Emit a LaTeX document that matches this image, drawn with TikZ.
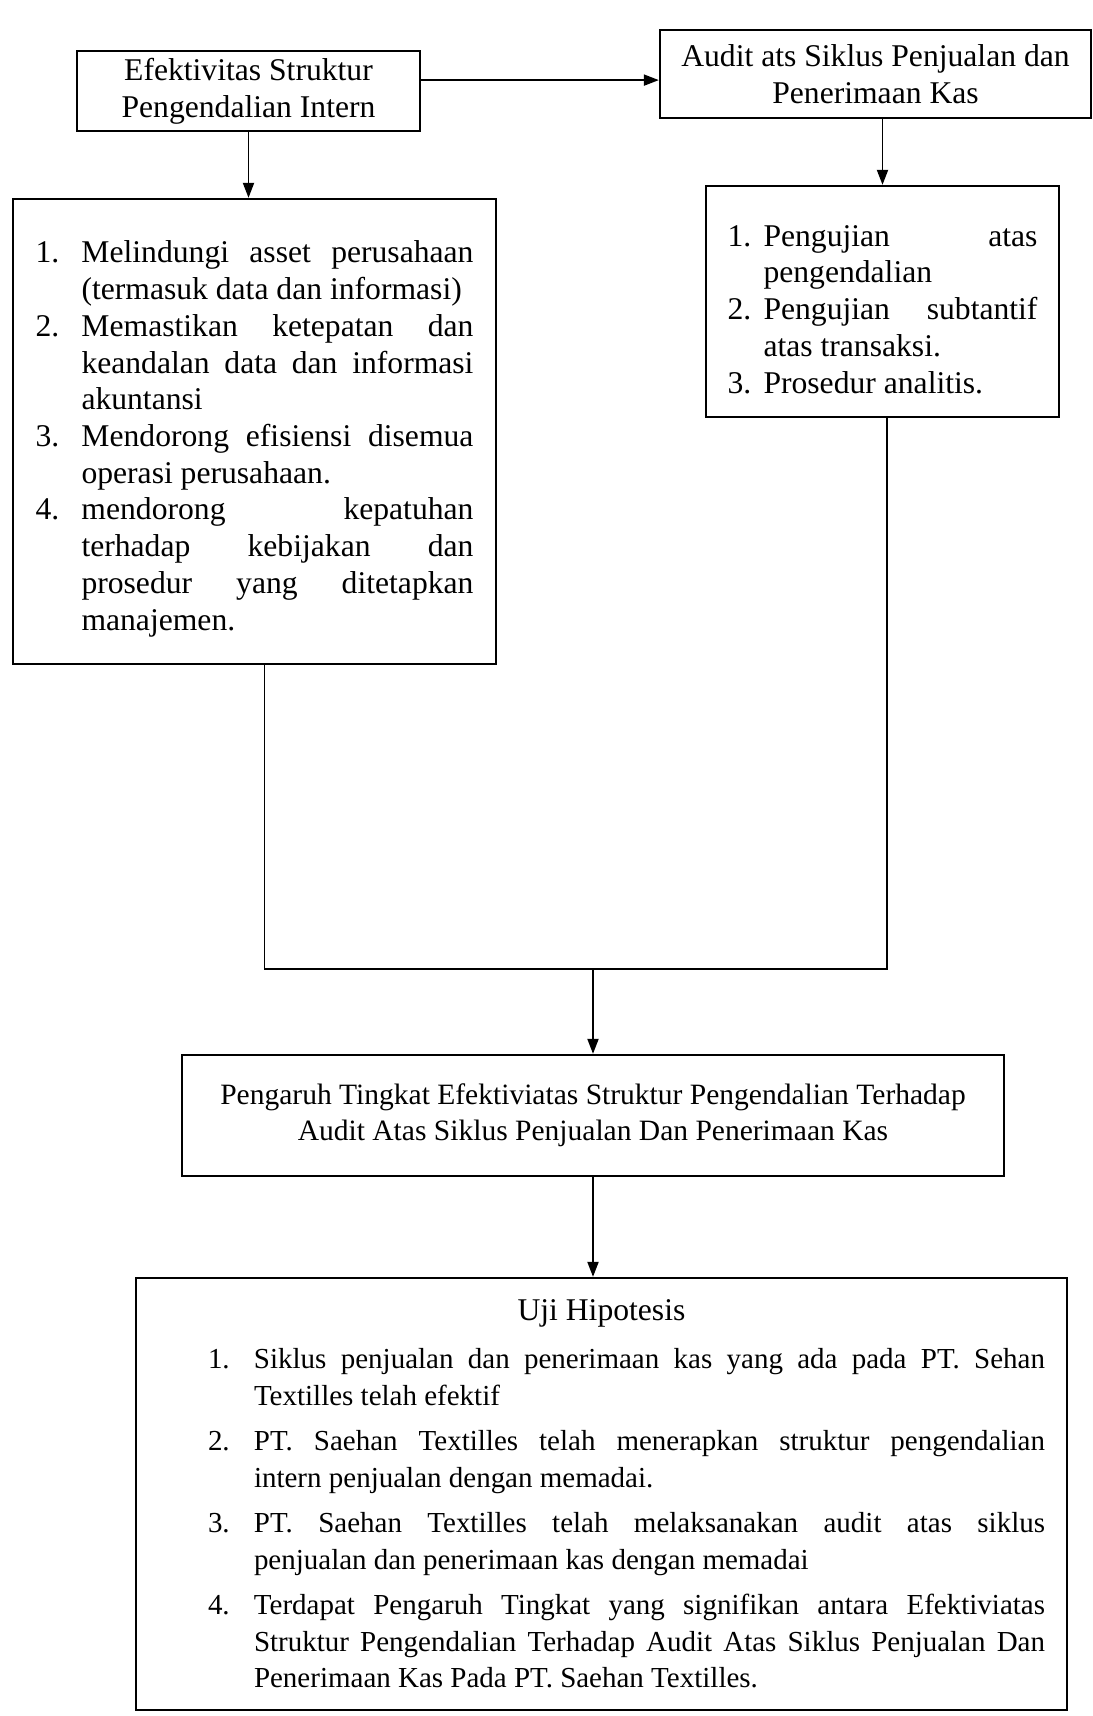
\documentclass[tikz,border=0pt]{standalone}
\usepackage{fontspec}
\setmainfont{Liberation Serif}
\usetikzlibrary{arrows.meta,positioning}
\tolerance=10000
\hbadness=10000
\hyphenpenalty=10000
\frenchspacing

% nomor butir dengan indentasi gantung
\newcommand{\nomor}[2][0.92cm]{\par\noindent\hangindent=#1\hangafter=1\makebox[#1][l]{#2}\ignorespaces}

\begin{document}
\begin{tikzpicture}[
  >={Triangle[length=3mm,width=2.2mm]},
  kotak/.style={draw, line width=1.3pt, inner sep=4pt, align=center,
                font=\fontsize{18}{21}\selectfont},
  daftar/.style={kotak, align=justify, font=\fontsize{18}{20.9}\selectfont},
  panah/.style={->, line width=1.1pt},
  garis/.style={line width=1.1pt}
]
  \useasboundingbox (0,0) rectangle (21.84,-34.32);
  % baris atas
  \node[kotak, minimum width=6.86cm, minimum height=1.6cm] (efek) at (4.97,-1.82)
    {Efektivitas Struktur\\Pengendalian Intern};
  \node[kotak, minimum width=8.62cm, minimum height=1.76cm] (audit) at (17.51,-1.48)
    {Audit ats Siklus Penjualan dan\\Penerimaan Kas};
  % daftar kiri dan kanan
  \node[daftar, text width=8.76cm, inner xsep=0.45cm, minimum height=9.3cm] (tujuan) at (5.09,-8.63) {%
    \nomor{1.}Melindungi asset perusahaan\linebreak (termasuk data dan informasi)
    \nomor{2.}Memastikan ketepatan dan\linebreak keandalan data dan informasi\linebreak akuntansi
    \nomor{3.}Mendorong efisiensi disemua\linebreak operasi perusahaan.
    \nomor{4.}mendorong kepatuhan\linebreak terhadap kebijakan dan\linebreak prosedur yang ditetapkan\linebreak manajemen.\par};
  \node[daftar, text width=6.2cm, inner xsep=0.43cm, minimum height=4.62cm] (prosedur) at (17.65,-6.03) {%
    \nomor[0.72cm]{1.}Pengujian atas\linebreak pengendalian
    \nomor[0.72cm]{2.}Pengujian subtantif\linebreak atas transaksi.
    \nomor[0.72cm]{3.}Prosedur analitis.\par};
  % pengaruh dan hipotesis
  \node[kotak, minimum width=16.44cm, minimum height=2.42cm, font=\fontsize{16.8}{20.5}\selectfont] (pengaruh) at (11.86,-22.31)
    {Pengaruh Tingkat Efektiviatas Struktur Pengendalian Terhadap\\Audit Atas Siklus Penjualan Dan Penerimaan Kas};
  \node[daftar, text width=17.74cm, inner xsep=0.44cm, minimum height=8.64cm, font=\fontsize{16.5}{21}\selectfont] (hipotesis) at (12.03,-29.88) {%
    \noindent\makebox[\hsize]{\fontsize{18}{21}\selectfont Uji Hipotesis}\par
    \vspace{2pt}\leftskip=1cm \parskip=4.5pt
    \nomor{1.}Siklus penjualan dan penerimaan kas yang ada pada PT. Sehan\linebreak Textilles telah efektif
    \nomor{2.}PT. Saehan Textilles telah menerapkan struktur pengendalian\linebreak intern penjualan dengan memadai.
    \nomor{3.}PT. Saehan Textilles telah melaksanakan audit atas siklus\linebreak penjualan dan penerimaan kas dengan memadai
    \nomor{4.}Terdapat Pengaruh Tingkat yang signifikan antara Efektiviatas\linebreak Struktur Pengendalian Terhadap Audit Atas Siklus Penjualan Dan\linebreak Penerimaan Kas Pada PT. Saehan Textilles.\par};
  \coordinate (temu) at (11.86,-19.38);
  % panah
  \draw[panah] ([yshift=6.2pt]efek.east) -- ([yshift=6.2pt]efek.east -| audit.west);
  \draw[panah] (efek.south) -- (efek.south |- tujuan.north);
  \draw[panah] (prosedur.north |- audit.south) -- (prosedur.north);
  \draw[garis] ([xshift=0.2cm]tujuan.south) |- (temu) -| ([xshift=0.09cm]prosedur.south);
  \draw[panah] (temu) -- (pengaruh.north);
  \draw[panah] (pengaruh.south) -- (pengaruh.south |- hipotesis.north);
\end{tikzpicture}
\end{document}
